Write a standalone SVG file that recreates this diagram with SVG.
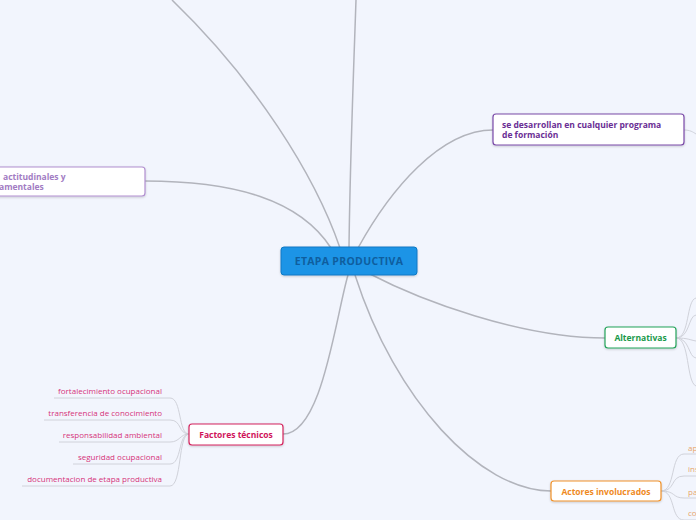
<svg xmlns="http://www.w3.org/2000/svg" width="696" height="520" viewBox="0 0 696 520">
<defs>
<filter id="sh" x="-10%" y="-20%" width="120%" height="150%"><feDropShadow dx="0" dy="1" stdDeviation="0.8" flood-color="#000" flood-opacity="0.18"/></filter>
</defs>
<style>
.main{fill:none;stroke:#b2b4bc;stroke-width:1.5}
.sub{fill:none;stroke:#d0d2da;stroke-width:1}
.t{font-family:"Open Sans","Liberation Sans",sans-serif;font-weight:bold}
.c{font-family:"Open Sans","Liberation Sans",sans-serif;font-size:8px}
</style>
<rect width="696" height="520" fill="#f2f5fd"/>
<g id="connectors">
<path class="main" d="M340,248 C315,175 255,80 172,0"/>
<path class="main" d="M349,248 C350,160 354,60 356,0"/>
<path class="main" d="M145,181 C235,181 300,200 331,248"/>
<path class="main" d="M358,248 C390,190 440,130 493,130"/>
<path class="main" d="M370,274 C420,300 520,338 605,338"/>
<path class="main" d="M355,275 C395,400 480,491 551,491"/>
<path class="main" d="M283,434 C322,434 335,320 348,275"/>
<path class="sub" d="M684,130 C690,130 693,132 696,134"/>
<path class="sub" d="M676,338 C690,338 686,300 696,298"/>
<path class="sub" d="M676,338 C690,338 688,316 696,315"/>
<path class="sub" d="M676,338 C688,338 690,340 696,341"/>
<path class="sub" d="M676,338 C690,338 688,357 696,358"/>
<path class="sub" d="M676,338 C690,338 686,382 696,386"/>
<path class="sub" d="M661,491 C676,491 670,454 684,454 L696,454"/>
<path class="sub" d="M661,491 C676,491 670,476 684,476 L696,476"/>
<path class="sub" d="M661,491 C676,491 672,498 684,498 L696,498"/>
<path class="sub" d="M661,491 C676,491 670,520 684,520 L696,520"/>
<path class="sub" d="M54,398 L170,398 C182,398 178,434 189,434"/>
<path class="sub" d="M44,420 L170,420 C182,420 178,434 189,434"/>
<path class="sub" d="M59,442 L170,442 C180,442 180,434 189,434"/>
<path class="sub" d="M73,464 L170,464 C182,464 178,434 189,434"/>
<path class="sub" d="M22,486 L170,486 C182,486 178,434 189,434"/>
</g>
<g id="center">
<rect x="281" y="247" width="136" height="28" rx="3" fill="#1a94e6" stroke="#0f78c4" stroke-width="1" filter="url(#sh)"/>
<text class="t" x="349" y="265" font-size="10.5" letter-spacing="0.3" fill="#0f5e9e" text-anchor="middle">ETAPA PRODUCTIVA</text>
</g>
<g id="actitudinales">
<rect x="-10" y="167" width="155" height="29" rx="3" fill="#fff" stroke="#b18fd0" stroke-width="1.2" filter="url(#sh)"/>
<text class="t" x="3" y="180" font-size="8.5" fill="#a27cc3">actitudinales y</text>
<text class="t" x="-1" y="190" font-size="8.5" fill="#a27cc3">amentales</text>
</g>
<g id="desarrollan">
<rect x="493" y="114" width="191" height="31" rx="3" fill="#fff" stroke="#7a4aa8" stroke-width="1.2" filter="url(#sh)"/>
<text class="t" x="502" y="128" font-size="8.5" fill="#6a2e94">se desarrollan en cualquier programa</text>
<text class="t" x="502" y="138" font-size="8.5" fill="#6a2e94">de formación</text>
</g>
<g id="alternativas">
<rect x="605" y="327" width="71" height="21" rx="3" fill="#fff" stroke="#23a35a" stroke-width="1.2" filter="url(#sh)"/>
<text class="t" x="640.5" y="341" font-size="8.5" fill="#1a9a4a" text-anchor="middle">Alternativas</text>
</g>
<g id="actores">
<rect x="551" y="481" width="110" height="20" rx="3" fill="#fff" stroke="#f0922a" stroke-width="1.2" filter="url(#sh)"/>
<text class="t" x="606" y="494.5" font-size="8.5" fill="#ef8a1e" text-anchor="middle">Actores involucrados</text>
</g>
<g id="actores-children" class="c" fill="#e8a66a">
<text x="688" y="451">ap</text>
<text x="688" y="472">ins</text>
<text x="688" y="495">pa</text>
<text x="688" y="516">co</text>
</g>
<g id="factores">
<rect x="189" y="424" width="94" height="21" rx="3" fill="#fff" stroke="#d4245e" stroke-width="1.2" filter="url(#sh)"/>
<text class="t" x="236" y="438" font-size="8.5" fill="#d0145a" text-anchor="middle">Factores técnicos</text>
</g>
<g id="factores-children" class="c" fill="#d6337a" text-anchor="end">
<text x="162" y="394">fortalecimiento ocupacional</text>
<text x="162" y="416">transferencia de conocimiento</text>
<text x="162" y="438">responsabilidad ambiental</text>
<text x="162" y="460">seguridad ocupacional</text>
<text x="162" y="482">documentacion de etapa productiva</text>
</g>
</svg>
